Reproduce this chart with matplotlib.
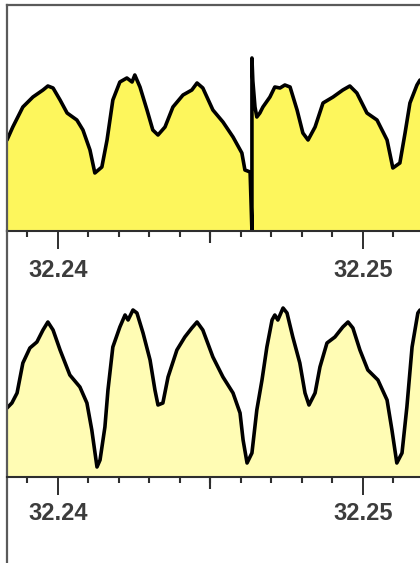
import numpy as np
import matplotlib
matplotlib.use("Agg")
import matplotlib.pyplot as plt
from matplotlib.ticker import MultipleLocator, FixedLocator

# time axis: offsets in ms after 32.24
T0 = 32.24
X_LEFT_MS = -1.67
X_RIGHT_MS = 11.87

top_ms = [-1.67, -1.48, -1.15, -0.82, -0.49, -0.33, -0.16, 0.07, 0.30, 0.62,
          0.82, 1.05, 1.21, 1.44, 1.61, 1.80, 2.03, 2.26, 2.43, 2.52,
          2.69, 2.92, 3.11, 3.28, 3.51, 3.77, 4.10, 4.39, 4.56, 4.75,
          5.08, 5.41, 5.74, 6.03, 6.13, 6.30, 6.36, 6.36, 6.39, 6.46,
          6.52, 6.62, 6.72, 6.95, 7.11, 7.28, 7.44, 7.61, 7.84, 8.03,
          8.20, 8.43, 8.69, 9.02, 9.34, 9.57, 9.80, 10.13, 10.46, 10.79,
          10.98, 11.21, 11.38, 11.54, 11.77, 11.87]
top_amp = [91, 104, 124, 134, 141, 145, 143, 131, 118, 111,
           101, 81, 58, 64, 91, 131, 149, 153, 149, 156,
           144, 121, 101, 96, 104, 124, 136, 141, 148, 143,
           121, 109, 94, 78, 61, 59, 0, 173, 150, 124,
           114, 118, 124, 134, 144, 143, 146, 144, 121, 98,
           91, 104, 128, 134, 141, 145, 138, 118, 111, 91,
           63, 68, 98, 128, 146, 151]

bot_ms = [-1.67, -1.51, -1.34, -1.15, -0.92, -0.69, -0.49, -0.33, -0.16, 0.07,
          0.39, 0.72, 0.95, 1.11, 1.28, 1.38, 1.54, 1.64, 1.80, 2.03,
          2.20, 2.30, 2.46, 2.59, 2.79, 3.02, 3.18, 3.28, 3.44, 3.61,
          3.90, 4.16, 4.39, 4.56, 4.75, 5.08, 5.41, 5.74, 5.97, 6.07,
          6.20, 6.36, 6.52, 6.69, 6.85, 7.02, 7.11, 7.21, 7.38, 7.51,
          7.70, 7.93, 8.10, 8.23, 8.43, 8.59, 8.82, 9.08, 9.34, 9.51,
          9.67, 9.90, 10.16, 10.49, 10.79, 10.95, 11.11, 11.28, 11.44, 11.61,
          11.80, 11.87]
bot_amp = [69, 74, 84, 114, 129, 135, 147, 155, 147, 127,
           102, 90, 74, 47, 10, 17, 50, 87, 130, 150,
           162, 157, 167, 164, 144, 117, 87, 72, 74, 100,
           127, 140, 149, 155, 147, 120, 100, 84, 64, 37,
           14, 24, 67, 97, 130, 157, 162, 157, 169, 164,
           140, 114, 84, 72, 84, 110, 134, 140, 150, 155,
           149, 127, 107, 97, 77, 47, 14, 24, 70, 130,
           164, 167]

major_ticks = [32.24, 32.25]
tick_labels = ["32.24", "32.25"]
mid_tick = 32.245

W, H = 420, 563
fig = plt.figure(figsize=(W / 100, H / 100), dpi=100)

frame_col = "#5a5a5a"
base_col = "#2e2e2e"
label_col = "#3c3c3c"

def style_axis(ax, pad):
    ax.set_xlim(T0 + X_LEFT_MS / 1000, T0 + X_RIGHT_MS / 1000)
    ax.xaxis.set_major_locator(FixedLocator(major_ticks))
    ax.set_xticklabels(tick_labels)
    ax.xaxis.set_minor_locator(MultipleLocator(0.001))
    ax.tick_params(axis="x", which="major", direction="out", length=13,
                   width=1.4, color=base_col, pad=pad, labelsize=17,
                   labelcolor=label_col)
    ax.tick_params(axis="x", which="minor", direction="out", length=4.3,
                   width=1.5, color=base_col)
    ax.set_yticks([])
    for lab in ax.get_xticklabels():
        lab.set_fontfamily(["Liberation Sans", "DejaVu Sans"])
        lab.set_fontweight("bold")
    ax.spines["right"].set_visible(False)
    ax.spines["left"].set_color(frame_col)
    ax.spines["left"].set_linewidth(1.6)
    ax.spines["bottom"].set_color(base_col)
    ax.spines["bottom"].set_linewidth(1.5)
    # medium tick at the half way mark
    ax.plot([mid_tick], [0], marker=3, markersize=8.6, mew=1.5,
            color=base_col, clip_on=False, zorder=5)

# top panel
ax1 = fig.add_axes([7 / W, 1 - 231 / H, 1 - 7 / W, (231 - 5) / H])
t_top = T0 + np.array(top_ms) / 1000
ax1.fill_between(t_top, 0, top_amp, color="#fdf65c", lw=0)
ax1.plot(t_top, top_amp, color="black", lw=2.6, solid_joinstyle="round",
         solid_capstyle="round")
ax1.set_ylim(0, 226)
ax1.spines["top"].set_color(frame_col)
ax1.spines["top"].set_linewidth(1.6)
style_axis(ax1, 7)

# bottom panel
ax2 = fig.add_axes([7 / W, 0, 1 - 7 / W, 1 - 231 / H])
ax2.set_facecolor("none")
t_bot = T0 + np.array(bot_ms) / 1000
ax2.fill_between(t_bot, 0, bot_amp, color="#fffcb4", lw=0)
ax2.plot(t_bot, bot_amp, color="black", lw=2.6, solid_joinstyle="round",
         solid_capstyle="round")
ax2.set_ylim(-(H - 477), 477 - 231)
ax2.spines["bottom"].set_position(("data", 0))
ax2.spines["top"].set_visible(False)
style_axis(ax2, 5)

fig.savefig("out.png", dpi=100)
